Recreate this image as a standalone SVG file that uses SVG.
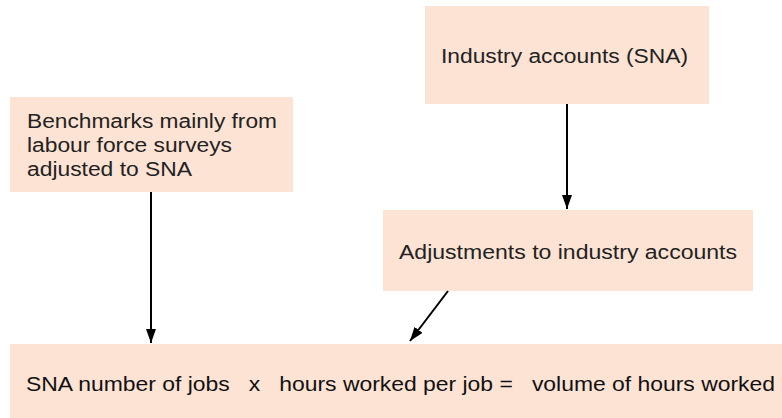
<svg xmlns="http://www.w3.org/2000/svg" width="782" height="418" viewBox="0 0 782 418">
<style>
.box{fill:#fde3d4;stroke:none}
.t{font-family:"Liberation Sans",Arial,sans-serif;font-size:19.5px;fill:#222}
.b{font-family:"Liberation Sans",Arial,sans-serif;font-size:21px;fill:#111}
.c{stroke:#000;stroke-width:2;fill:none}
</style>
<defs>
<marker id="ah" viewBox="0 0 14 10" refX="14" refY="5" markerWidth="14" markerHeight="10" markerUnits="userSpaceOnUse" orient="auto">
<path d="M0,0 L14,5 L0,10 z" fill="#000"/>
</marker>
</defs>
<rect width="782" height="418" fill="#fff"/>
<g id="node-benchmarks">
<rect class="box" x="10" y="97" width="283" height="95"/>
<text class="t" x="27" y="128" textLength="250" lengthAdjust="spacingAndGlyphs">Benchmarks mainly from</text>
<text class="t" x="27" y="152" textLength="205" lengthAdjust="spacingAndGlyphs">labour force surveys</text>
<text class="t" x="27" y="176" textLength="165" lengthAdjust="spacingAndGlyphs">adjusted to SNA</text>
</g>
<g id="node-industry">
<rect class="box" x="425" y="6" width="284" height="98"/>
<text class="t" x="441" y="63" textLength="247" lengthAdjust="spacingAndGlyphs">Industry accounts (SNA)</text>
</g>
<g id="node-adjustments">
<rect class="box" x="383" y="210" width="370" height="81"/>
<text class="t" x="399" y="259" textLength="338" lengthAdjust="spacingAndGlyphs">Adjustments to industry accounts</text>
</g>
<g id="node-result">
<rect class="box" x="10" y="344" width="772" height="74"/>
<text class="b" x="26" y="391" textLength="749" lengthAdjust="spacingAndGlyphs" xml:space="preserve">SNA number of jobs   x   hours worked per job =   volume of hours worked</text>
</g>
<g id="connectors">
<line class="c" x1="151" y1="192" x2="151" y2="343" marker-end="url(#ah)"/>
<line class="c" x1="567" y1="104" x2="567" y2="209" marker-end="url(#ah)"/>
<line class="c" x1="448" y1="291" x2="410" y2="341" marker-end="url(#ah)"/>
</g>
</svg>
